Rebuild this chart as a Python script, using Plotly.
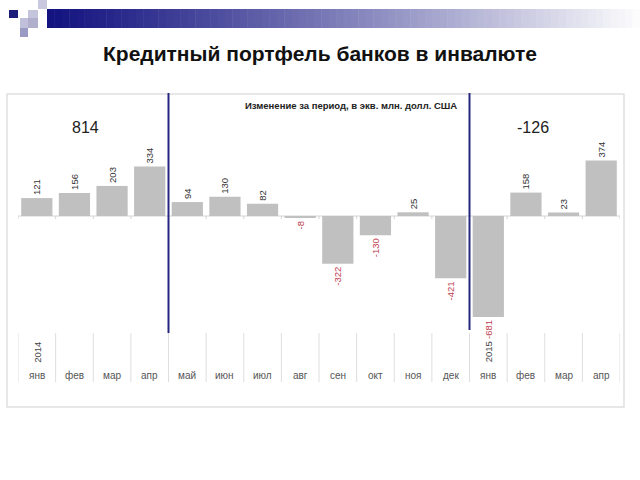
import plotly.graph_objects as go

months = ["янв", "фев", "мар", "апр", "май", "июн", "июл", "авг",
          "сен", "окт", "ноя", "дек", "янв", "фев", "мар", "апр"]
values = [121, 156, 203, 334, 94, 130, 82, -8, -322, -130, 25, -421, -681, 158, 23, 374]
years = {0: "2014", 12: "2015"}
totals = [("814", 1.3), ("-126", 13.2)]
title = "Кредитный портфель банков в инвалюте"
subtitle = "Изменение за период, в экв. млн. долл. США"

W, H = 640, 480
ML, MR, MT, MB = 18, 20, 94, 73
PH = H - MT - MB
PW = W - ML - MR
FONT = "Arial, Liberation Sans, sans-serif"


def py(pix):
    return (H - MB - pix) / PH


def px(pix):
    return (pix - ML) / PW


x = list(range(len(months)))
label_colors = ["#333333" if v >= 0 else "#c0404f" for v in values]

fig = go.Figure()
fig.add_trace(go.Bar(
    x=x, y=values, width=0.83,
    marker=dict(color="#c0c0c0", line=dict(width=0)),
    text=[str(v) for v in values], textposition="outside", textangle=-90,
    textfont=dict(size=9.5, color=label_colors, family=FONT),
    cliponaxis=False, showlegend=False,
))

shapes = []
# chart frame
shapes.append(dict(type="rect", xref="paper", yref="paper", x0=px(7), x1=px(624), y0=py(407), y1=py(94),
                   line=dict(color="#e0e0e0", width=1.5), layer="below"))
# zero line
shapes.append(dict(type="line", xref="x", yref="y", x0=-0.5, x1=len(months) - 0.5, y0=0, y1=0,
                   line=dict(color="#d4d4d4", width=1), layer="below"))
for i in range(len(months) + 1):
    shapes.append(dict(type="line", xref="x", yref="paper", x0=i - 0.5, x1=i - 0.5, y0=py(219), y1=py(216),
                       line=dict(color="#d4d4d4", width=1)))
    # category separators
    shapes.append(dict(type="line", xref="x", yref="paper", x0=i - 0.5, x1=i - 0.5, y0=py(382), y1=py(333),
                       line=dict(color="#dedede", width=1)))
# year separators (navy)
shapes.append(dict(type="line", xref="x", yref="paper", x0=3.5, x1=3.5, y0=py(333), y1=py(93),
                   line=dict(color="#262680", width=2)))
shapes.append(dict(type="line", xref="x", yref="paper", x0=11.5, x1=11.5, y0=py(330), y1=py(93),
                   line=dict(color="#262680", width=2)))

# top decoration gradient bar
n = 80
x_start, x_end = 47, 640
c0 = (20, 20, 128)
c1 = (252, 252, 253)
for k in range(n):
    t = k / (n - 1)
    t2 = t ** 1.1
    col = tuple(int(c0[j] + (c1[j] - c0[j]) * t2) for j in range(3))
    xa = x_start + (x_end - x_start) * k / n
    xb = x_start + (x_end - x_start) * (k + 1) / n + 0.5
    shapes.append(dict(type="rect", xref="paper", yref="paper", x0=px(xa), x1=px(xb), y0=py(28), y1=py(9),
                       line=dict(width=0), fillcolor="rgb(%d,%d,%d)" % col))
squares = [
    (9, 18, 10, 18, "#1c1c7a"),
    (28, 38, 10, 18, "#c4c4dc"),
    (38, 47, 0, 9, "#c8c8de"),
    (20, 28, 18, 28, "#c0c0da"),
    (28, 38, 18, 28, "#b0b0cc"),
    (20, 28, 28, 37, "#9a9ac4"),
]
for (a, b, c, d, col) in squares:
    shapes.append(dict(type="rect", xref="paper", yref="paper", x0=px(a), x1=px(b), y0=py(d), y1=py(c),
                       line=dict(width=0), fillcolor=col))

annotations = []
for i, m in enumerate(months):
    annotations.append(dict(x=i, y=py(375), xref="x", yref="paper", text=m, showarrow=False,
                            xanchor="center", yanchor="middle",
                            font=dict(size=10, color="#555555", family=FONT)))
for i, yr in years.items():
    annotations.append(dict(x=i, y=py(352), xref="x", yref="paper", text=yr, showarrow=False, textangle=-90,
                            xanchor="center", yanchor="middle",
                            font=dict(size=9.5, color="#444444", family=FONT)))
for txt, xpos in totals:
    annotations.append(dict(x=xpos, y=py(127), xref="x", yref="paper", text=txt, showarrow=False,
                            xanchor="center", yanchor="middle",
                            font=dict(size=16, color="#222222", family=FONT)))
annotations.append(dict(x=px(351), y=py(105), xref="paper", yref="paper", text="<b>%s</b>" % subtitle,
                        showarrow=False, xanchor="center", yanchor="middle",
                        font=dict(size=9.5, color="#222222", family=FONT)))
annotations.append(dict(x=px(320), y=py(54), xref="paper", yref="paper", text="<b>%s</b>" % title,
                        showarrow=False, xanchor="center", yanchor="middle",
                        font=dict(size=21, color="#111111", family=FONT)))

scale = 6.75
fig.update_layout(
    width=W, height=H,
    margin=dict(l=ML, r=MR, t=MT, b=MB),
    paper_bgcolor="white", plot_bgcolor="white",
    xaxis=dict(range=[-0.5, len(months) - 0.5], showticklabels=False, showgrid=False, zeroline=False,
               ticks="", showline=False, fixedrange=True),
    yaxis=dict(range=[-(H - MB - 216) * scale, (216 - MT) * scale], showticklabels=False, showgrid=False,
               zeroline=False, ticks="", showline=False, fixedrange=True),
    shapes=shapes, annotations=annotations, bargap=0.17,
)
fig.write_html("out.html")
